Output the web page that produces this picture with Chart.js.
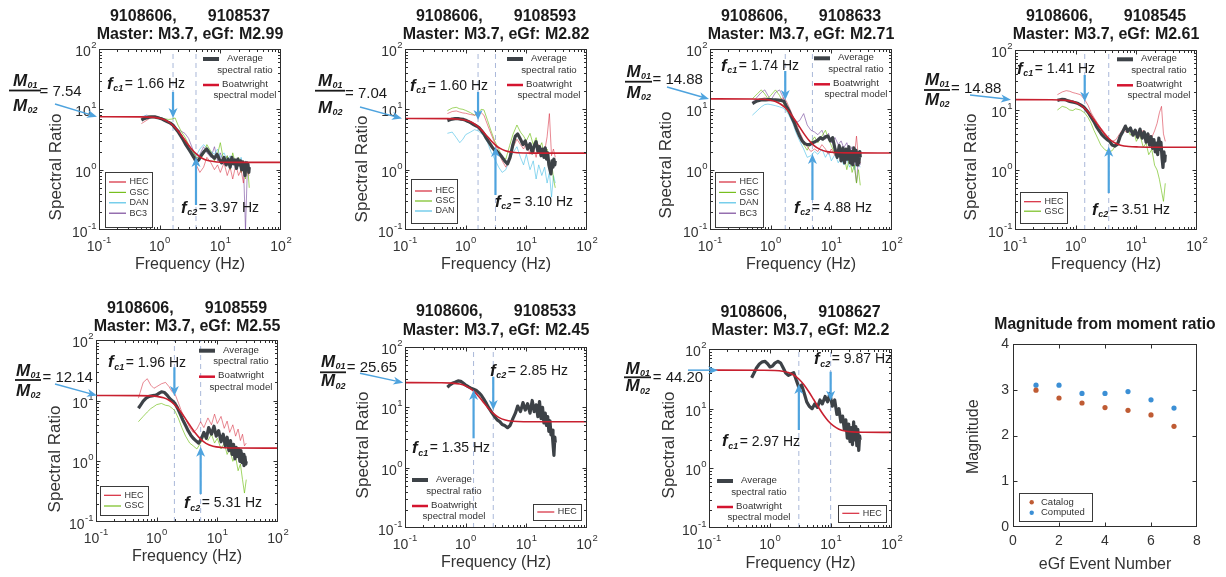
<!DOCTYPE html>
<html><head><meta charset="utf-8"><title>Spectral ratios and magnitudes</title>
<script src="https://cdn.jsdelivr.net/npm/chart.js@4.4.1/dist/chart.umd.min.js"></script>
<style>
html,body{margin:0;padding:0;background:#fff;}
#wrap{position:relative;width:1226px;height:577px;overflow:hidden;background:#fff;}
.pn{position:absolute;}
.pn canvas{display:block;}
</style></head><body><div id="wrap"></div>
<script>
// ---------------- DATA ----------------
const masterEvent = '9108606';
const masterMag = 'M3.7';
const egfEvents = ['9108537','9108593','9108633','9108545','9108559','9108533','9108627'];
const egfMags = ['M2.99','M2.82','M2.71','M2.61','M2.55','M2.45','M2.2'];
const momentRatios = [7.54, 7.04, 14.88, 14.88, 12.14, 25.65, 44.20];
const fc1Values = [1.66, 1.60, 1.74, 1.41, 1.96, 1.35, 2.97];
const fc2Values = [3.97, 3.10, 4.88, 3.51, 5.31, 2.85, 9.87];
const logTickExponents = [-1, 0, 1, 2];

const freqAvg = [0.5,0.55,0.6,0.67,0.75,0.83,0.92,1.0,1.1,1.2,1.35,1.5,1.65,1.8,2.0,2.2,2.45,2.7,3.0,3.3,3.65,4.0,4.4,4.9,5.4,6.0,6.6,7.2,8.0,8.8,9.6,10.5,11.5,12.5,13.5,14.5,15.5,16.5,17.5,18.5,19.5,20.5,21.5,22.5,23.5,24.5,25.5,26.5,27.5,28.5,29.5,30];
const freqSta = [0.5,0.6,0.7,0.8,0.9,1.0,1.2,1.4,1.6,1.8,2.0,2.3,2.6,3.0,3.5,4.0,4.6,5.3,6.0,7.0,8.0,9.0,10,11.5,13,14.5,16,18,20,22,24,26,28,30];

// average spectral ratios (on freqAvg)
const avg1 = [6.6,7.0,7.2,7.4,7.5,7.5,7.3,7.1,6.9,6.6,6.2,5.9,5.5,4.9,4.3,3.7,3.1,2.6,2.2,1.9,1.6,1.35,1.45,1.75,2.0,2.2,1.9,1.7,1.55,1.8,1.5,1.3,1.6,1.2,1.5,1.1,1.6,1.25,1.45,1.05,1.5,1.2,1.4,1.0,1.35,1.1,0.8,1.3,1.0,1.25,0.9,1.1];
const avg2 = [6.5,6.7,6.9,7.0,7.0,6.9,6.8,6.6,6.3,6.0,5.6,5.3,5.0,4.5,3.9,3.3,2.8,2.4,2.1,2.0,1.8,1.6,1.4,1.25,1.6,2.6,3.6,3.9,3.2,2.6,3.0,2.2,2.7,1.9,2.5,2.9,2.0,2.4,1.7,2.2,1.6,2.3,1.5,1.9,1.2,1.0,0.85,1.4,1.1,1.5,1.2,1.4];
const avg3 = [12.5,13.2,13.8,14.2,14.4,14.4,14.5,14.5,14.4,14.3,14.2,14.0,13.6,11.5,9.5,7.6,6.0,4.6,3.6,3.0,2.7,2.6,2.6,2.8,2.9,3.1,3.4,3.2,3.5,3.6,3.0,3.4,2.2,1.6,2.5,1.4,2.3,1.3,2.2,1.5,2.4,1.3,2.0,1.2,2.3,1.4,2.1,1.2,1.9,1.3,2.0,1.6];
const avg4 = [14.5,14.8,15.0,14.9,14.2,13.8,13.5,13.2,12.8,12.2,11.3,10.0,8.8,7.6,6.4,5.3,4.5,3.9,3.5,3.2,3.0,2.6,2.5,2.7,3.6,4.4,5.4,4.4,5.0,3.8,4.6,3.5,4.8,3.4,4.3,2.9,4.0,2.6,3.6,2.3,3.2,2.0,2.8,1.8,3.4,2.2,2.9,1.6,1.1,2.0,1.4,1.8];
const avg5 = [7.5,8.6,9.8,11.0,11.8,12.0,12.2,12.5,13.3,14.0,13.6,12.2,10.8,10.0,9.0,7.6,6.0,4.8,3.9,3.2,2.7,2.4,2.2,2.0,2.3,3.0,2.4,3.6,2.8,3.8,2.6,3.2,2.1,2.8,1.8,2.5,1.5,2.2,1.3,1.9,1.1,1.7,1.2,1.6,1.0,1.5,0.95,1.3,0.85,1.2,0.9,1.0];
const avg6 = [21.5,23.5,25.0,26.0,27.5,27.0,25.0,23.5,22.0,21.0,20.0,19.0,17.5,16.0,13.5,11.5,9.5,8.2,7.0,6.2,5.8,5.2,5.0,4.6,5.0,6.5,8.0,10.5,8.5,12.0,9.0,11.5,8.0,13.0,8.5,11.0,7.0,12.5,6.5,10.0,5.5,8.0,5.0,7.0,4.0,6.0,3.5,4.2,2.5,1.6,3.2,2.6];
const avg7 = [33,40,48,56,61,62,56,50,52,58,62,58,48,40,36,38,40,30,22,25,18,13,11,10,12,10.5,14,12,16,13,18,11,14,8,10,6,7.5,4.5,6.5,3.2,5.5,2.8,4.8,2.5,6.0,3.0,5.0,2.4,4.5,2.0,3.5,3.0];

// individual station ratios (on freqSta)
const hec1 = [5.8,6.5,7.2,7.6,7.3,7.0,6.4,6.0,5.6,5.0,4.5,3.6,2.8,2.2,1.7,1.2,0.9,1.1,1.6,1.3,1.0,1.2,0.9,1.3,0.8,1.1,0.7,1.2,0.8,1.0,0.6,1.1,0.9,0.8];
const gsc1 = [7.0,7.6,7.8,7.4,7.2,7.3,7.0,6.8,6.9,7.2,5.5,4.2,3.5,2.6,2.0,1.6,1.5,1.8,2.6,2.0,1.4,1.8,2.8,1.3,1.7,1.0,1.9,1.2,1.6,0.9,1.4,0.7,1.3,0.5];
const dan1 = [7.6,7.8,7.6,7.4,7.2,7.0,6.6,6.2,5.5,4.8,4.2,3.4,2.8,2.3,2.0,1.7,2.2,2.6,2.3,2.0,1.8,2.2,1.6,1.9,1.4,1.7,1.3,1.5,1.2,1.6,1.1,1.4,1.2,1.0];
const bc3_1 = [7.3,8.0,7.8,7.5,7.4,7.1,6.6,6.1,5.8,5.2,4.6,4.3,4.0,3.3,2.2,1.5,1.8,2.4,1.9,1.6,2.4,1.4,1.9,1.2,1.7,1.1,1.5,1.0,1.4,0.9,1.3,0.1,1.2,1.0];
const hec2 = [8.5,9.2,9.4,9.0,8.7,8.6,8.2,8.0,8.3,8.8,8.0,5.5,4.0,2.8,1.9,1.4,1.1,1.5,2.3,3.2,2.6,2.2,2.8,1.8,2.4,1.6,2.6,1.8,2.0,3.5,8.5,1.7,2.2,1.6];
const gsc2 = [9.5,10.5,10.8,10.2,10.0,9.6,8.8,8.0,8.6,10.0,9.8,6.5,4.5,3.0,2.2,1.6,1.5,2.5,3.8,5.5,4.2,3.6,3.0,4.0,2.6,3.4,2.2,2.8,1.6,2.2,1.0,1.4,0.7,0.5];
const dan2 = [4.0,4.2,3.4,2.8,3.2,3.8,4.2,4.6,4.4,4.0,3.6,2.8,2.0,1.5,1.1,0.9,1.0,1.5,1.9,2.4,1.6,1.2,1.8,1.0,1.4,0.7,1.2,0.8,1.1,0.6,0.9,0.35,0.8,0.6];
const hec3 = [13,14.5,15,15.5,15,14.2,13.8,14.5,15.5,14,11,8,6,4.2,3.0,2.4,2.0,2.2,2.0,2.6,2.2,1.8,2.2,1.7,2.0,1.6,1.9,1.5,1.8,1.4,1.7,3.6,1.5,1.3];
const gsc3 = [15,18,21,18,15,17,21,17,13,10,8.5,7,5,3.6,2.6,2.1,2.8,3.5,2.8,3.6,4.5,3.2,2.5,1.8,2.2,1.4,1.8,1.0,1.6,0.9,1.2,0.6,1.0,0.55];
const dan3 = [8,9.5,11,12,12.2,12,11.5,11,10.5,9.5,8,6,4.2,3.0,2.2,1.6,1.7,2.0,1.8,2.2,1.6,2.0,1.4,1.8,1.3,1.6,1.2,1.5,1.1,1.4,1.0,1.3,1.2,1.1];
const bc3_3 = [13,16,19,21,17,14,19,21,16,12,9,7.5,6,6.5,8.5,5.5,4.5,4.2,3.8,4.5,3.2,4.0,2.8,3.4,2.6,3.0,2.3,2.8,1.9,2.4,1.2,0.6,1.6,1.2];
const hec4 = [18,20,21,20.5,19.5,19,18,15,12,9,7.5,6,5,4.2,3.4,3.0,3.2,4.0,4.8,4.2,5.0,3.8,4.4,3.6,4.6,3.2,4.0,3.5,4.5,6.0,9.0,11.5,4.0,3.0];
const gsc4 = [10,11.5,11,10,9.8,10.5,10,9,7.5,6,4.6,3.4,2.6,2.2,2.0,2.1,2.6,3.5,4.4,5.2,3.8,4.6,3.0,3.8,2.4,2.8,1.8,2.2,1.2,1.0,0.7,0.45,0.3,0.6];
const hec5 = [11,20,23,18,16,17,19,20,17,14,13,9,6.5,5.0,3.6,3.0,3.4,4.5,3.6,5.2,4.0,6.0,4.2,5.5,3.5,4.6,3.0,4.0,2.6,3.4,2.2,2.8,1.8,2.0];
const gsc5 = [4.5,5.5,6.5,7.4,8.0,8.6,9.0,8.4,8.2,7.5,6.8,5.0,3.6,2.6,2.0,1.8,1.6,2.0,2.6,2.2,2.8,2.0,2.4,1.6,2.0,1.3,1.6,1.0,1.2,0.7,0.9,0.5,0.3,0.5];
const hec6 = avg6;   // single station: station ratio equals the average
const hec7 = avg7;

// Boatwright model curves
const modelF1 = [0.1,0.5,0.8,1.0,1.2,1.4,1.66,2.0,2.4,2.8,3.3,3.97,5,6.5,9,15,100];
const modelR1 = [7.54,7.51,7.35,7.10,6.71,6.19,5.41,4.41,3.46,2.79,2.25,1.84,1.55,1.40,1.34,1.32,1.32];
const modelF2 = [0.1,0.5,0.8,1.0,1.2,1.4,1.6,1.9,2.2,2.6,3.1,3.7,4.5,6,9,15,100];
const modelR2 = [7.04,7.01,6.84,6.59,6.20,5.71,5.15,4.35,3.69,3.05,2.56,2.25,2.06,1.94,1.89,1.88,1.88];
const modelF3 = [0.1,0.5,0.8,1.0,1.2,1.45,1.74,2.1,2.5,3.0,3.6,4.3,5.2,6.5,8.5,12,20,100];
const modelR3 = [14.88,14.83,14.56,14.14,13.46,12.27,10.61,8.56,6.71,5.07,3.85,3.04,2.51,2.17,1.99,1.92,1.90,1.89];
const modelF4 = [0.1,0.4,0.7,0.9,1.1,1.41,1.7,2.0,2.4,2.9,3.51,4.3,5.5,7.5,11,20,100];
const modelR4 = [14.88,14.83,14.46,13.81,12.77,10.66,8.66,6.96,5.36,4.15,3.35,2.87,2.59,2.46,2.42,2.40,2.40];
const modelF5 = [0.1,0.5,0.8,1.0,1.3,1.6,1.96,2.4,2.9,3.5,4.3,5.31,6.5,8.5,12,20,100];
const modelR5 = [12.14,12.11,11.98,11.76,11.13,10.14,8.66,6.87,5.26,3.96,2.95,2.32,1.98,1.77,1.69,1.66,1.65];
const modelF6 = [0.1,0.4,0.6,0.8,1.0,1.15,1.35,1.6,1.9,2.3,2.85,3.5,4.5,6,9,20,100];
const modelR6 = [25.65,25.55,25.19,24.28,22.66,21.03,18.59,15.60,12.65,9.97,7.94,6.83,6.17,5.89,5.78,5.76,5.76];
const modelF7 = [0.1,0.8,1.2,1.6,2.0,2.4,2.97,3.6,4.3,5.2,6.3,7.6,9.0,11,13.5,17,22,35,100];
const modelR7 = [44.2,44.08,43.63,42.46,40.29,37.07,31.38,25.09,19.37,14.23,10.35,7.76,6.22,5.13,4.53,4.22,4.08,4.02,4.00];

// magnitude panel
const eventNumbers = [1,2,3,4,5,6,7];
const catalogMag = [2.99,2.82,2.71,2.61,2.55,2.45,2.20];
const computedMag = [3.10,3.10,2.92,2.92,2.96,2.78,2.60];

const AVG = [avg1,avg2,avg3,avg4,avg5,avg6,avg7];
const MODEL_F = [modelF1,modelF2,modelF3,modelF4,modelF5,modelF6,modelF7];
const MODEL_R = [modelR1,modelR2,modelR3,modelR4,modelR5,modelR6,modelR7];
const STATIONS = [
  [['HEC',freqSta,hec1],['GSC',freqSta,gsc1],['DAN',freqSta,dan1],['BC3',freqSta,bc3_1]],
  [['HEC',freqSta,hec2],['GSC',freqSta,gsc2],['DAN',freqSta,dan2]],
  [['HEC',freqSta,hec3],['GSC',freqSta,gsc3],['DAN',freqSta,dan3],['BC3',freqSta,bc3_3]],
  [['HEC',freqSta,hec4],['GSC',freqSta,gsc4]],
  [['HEC',freqSta,hec5],['GSC',freqSta,gsc5]],
  [['HEC',freqAvg,hec6]],
  [['HEC',freqAvg,hec7]]
];

// ---------------- LAYOUT (page pixels) ----------------
const LAYOUT = [
 {box:[0,0,300,285], plot:[99,49,281,230], title:[190,17,35], ylab:[56,167], xlab:[190,265],
  fc1:[107,84,92,118], fc2:[181,208,205,157], frac:{x0:9,x1:41,num:81.5,bar:90.5,den:106.5,eqX:39.5,eqY:92},
  mArrow:[55,104,97], leg:[203,59], st:{x0:105,y0:172,x1:152,y1:227,r0:182,dr:10.4}},
 {box:[300,0,310,285], plot:[405,49,587,230], title:[496,17,35], ylab:[362,169], xlab:[496,265],
  fc1:[410,86,92,120], fc2:[495,202,195,147], frac:{x0:315,x1:345,num:81.5,bar:90.7,den:108,eqX:345,eqY:94},
  mArrow:[360,107,402], leg:[507,59], st:{x0:411,y0:179,x1:457,y1:223,r0:191,dr:10}},
 {box:[610,0,305,285], plot:[710,49,892,230], title:[801,16.5,34.5], ylab:[666,165], xlab:[801,265],
  fc1:[721,66,71,100], fc2:[794,208,200,154], frac:{x0:625,x1:652,num:72.2,bar:81.7,den:93.3,eqX:652.5,eqY:80},
  mArrow:[667,87,709], leg:[814,58.3], st:{x0:715,y0:172,x1:763,y1:227,r0:182,dr:10.4}},
 {box:[915,0,311,285], plot:[1015,50,1197,230], title:[1106,16.5,34.5], ylab:[971,167], xlab:[1106,265],
  fc1:[1017,69,75,101.7], fc2:[1092,210,193,146.7], frac:{x0:924,x1:950,num:80.5,bar:90,den:100,eqX:951,eqY:89.3},
  mArrow:[970,95,1011], leg:[1117,59.3], st:{x0:1020,y0:192.3,x1:1067,y1:223,r0:201.7,dr:9.5}},
 {box:[0,285,300,292], plot:[96,340,278,522], title:[187,308.3,326.5], ylab:[55,459], xlab:[187,557],
  fc1:[108,362.7,367.3,396], fc2:[184,503.3,494,446.7], frac:{x0:15,x1:41,num:371.2,bar:380,den:391,eqX:42.5,eqY:377.7},
  mArrow:[55,384,97], leg:[199,350.7], st:{x0:100,y0:485.7,x1:148,y1:514.3,r0:495.3,dr:10.7}},
 {box:[300,285,310,292], plot:[405,347,587,528], title:[496,311.7,330.7], ylab:[363,445], xlab:[496,563],
  fc1:[412,448.3,438.3,390], fc2:[490,371,376.7,410], frac:{x0:320,x1:346,num:362.2,bar:372.3,den:381.7,eqX:346.7,eqY:368.3},
  mArrow:[360,373.3,403.3], leg:[412,480], st:{x0:533.3,y0:504.3,x1:581.7,y1:520,r0:512,dr:10}},
 {box:[610,285,305,292], plot:[709,349,892,528], title:[800.5,312.7,331], ylab:[669,445], xlab:[800.5,564],
  fc1:[722,441.7,430,384], fc2:[814,359.3,371.7,400.7], frac:{x0:624,x1:651,num:369.5,bar:377.3,den:386.7,eqX:652.7,eqY:377.7},
  mArrow:[688,null,718], leg:[717,481], st:{x0:838.3,y0:505,x1:886.7,y1:521.7,r0:513.3,dr:10}}
];
const MAG_LAYOUT = {box:[915,285,311,292], plot:[1013,344,1197,527], title:[1105,325], ylab:[974,436.7], xlab:[1105,565],
  leg:{x0:1019.3,y0:493.3,x1:1092.7,y1:521.7,r0:502.3,dr:10.4}};

// ---------------- STYLE ----------------
const FF = "'Liberation Sans', Arial, Helvetica, sans-serif";
const TXT = '#333333';
const DARK = '#1a1a1a';
const RED = '#c8202f';
const AVGC = '#3d4247';
const BLUE = '#4ea3de';
const DASH = '#a9b8d9';
const STA_COLORS = {HEC:'rgba(214,40,58,0.55)', GSC:'rgba(110,190,20,0.65)', DAN:'rgba(70,190,230,0.6)', BC3:'rgba(115,70,155,0.6)'};
const STA_LEG = {HEC:'#d6283a', GSC:'#77bf1f', DAN:'#56c2e6', BC3:'#7b4b9c'};
const YW = 40, XH = 30;

// ---------------- HELPERS ----------------
function isPow10(v){ const e = Math.log10(v); return Math.abs(e - Math.round(e)) < 1e-6; }
const LOG_TICKS = [];
for (let d = -1; d <= 1; d++) for (let m = 1; m <= 9; m++) LOG_TICKS.push(m * Math.pow(10, d));
LOG_TICKS.push(100);
function pts(xs, ys){ return xs.map((x, k) => ({x: x, y: ys[k]})); }
function txt(ctx, s, x, y, font, color, align, base){ ctx.font = font; ctx.fillStyle = color; ctx.textAlign = align || 'left'; ctx.textBaseline = base || 'middle'; ctx.fillText(s, x, y); }
function line(ctx, x0, y0, x1, y1){ ctx.beginPath(); ctx.moveTo(x0, y0); ctx.lineTo(x1, y1); ctx.stroke(); }

function frame(ctx, chart, ox, oy, xTicks, yTicks, majorTest){
  const a = chart.chartArea, xs = chart.scales.x, ys = chart.scales.y;
  const L = Math.round(a.left + ox) + 0.5, R = Math.round(a.right + ox) - 0.5, T = Math.round(a.top + oy) + 0.5, B = Math.round(a.bottom + oy) - 0.5;
  ctx.strokeStyle = '#2e2e2e'; ctx.lineWidth = 1;
  ctx.beginPath();
  xTicks.forEach(v => {
    const p = Math.round(xs.getPixelForValue(v) + ox) + 0.5;
    if (p <= L + 1 || p >= R - 1) return;
    const len = majorTest(v) ? 4 : 2.5;
    ctx.moveTo(p, B); ctx.lineTo(p, B - len); ctx.moveTo(p, T); ctx.lineTo(p, T + len);
  });
  yTicks.forEach(v => {
    const p = Math.round(ys.getPixelForValue(v) + oy) + 0.5;
    if (p <= T + 1 || p >= B - 1) return;
    const len = majorTest(v) ? 4 : 2.5;
    ctx.moveTo(L, p); ctx.lineTo(L + len, p); ctx.moveTo(R, p); ctx.lineTo(R - len, p);
  });
  ctx.stroke();
  ctx.strokeRect(L, T, R - L, B - T);
}

// MATLAB-style "10^n" tick labels, placed with the chart's own scales
function powLabel(ctx, exp, x, yc, align){
  const base = '10', sup = String(exp);
  ctx.font = `14px ${FF}`; const wb = ctx.measureText(base).width;
  ctx.font = `9.5px ${FF}`; const ws = ctx.measureText(sup).width;
  const x0 = align === 'center' ? x - (wb + ws + 0.5) / 2 : x - (wb + ws + 0.5);
  txt(ctx, base, x0, yc, `14px ${FF}`, TXT, 'left');
  txt(ctx, sup, x0 + wb + 0.5, yc - 6.5, `9.5px ${FF}`, TXT, 'left');
}
function logTickLabels(ctx, chart, ox, oy){
  const a = chart.chartArea, xs = chart.scales.x, ys = chart.scales.y;
  logTickExponents.forEach(e => {
    const v = Math.pow(10, e);
    powLabel(ctx, e, xs.getPixelForValue(v) + ox, a.bottom + oy + 17, 'center');
    powLabel(ctx, e, a.left + ox - 2.5, ys.getPixelForValue(v) + oy + 3, 'right');
  });
}

function arrow(ctx, x0, y0, x1, y1, lw, hl, hw){
  const ang = Math.atan2(y1 - y0, x1 - x0), c = Math.cos(ang), s = Math.sin(ang);
  const nx = x1 - hl * 0.72 * c, ny = y1 - hl * 0.72 * s;
  const bx = x1 - hl * c, by = y1 - hl * s;
  ctx.strokeStyle = BLUE; ctx.lineWidth = lw; ctx.lineCap = 'butt';
  line(ctx, x0, y0, nx, ny);
  ctx.fillStyle = BLUE; ctx.beginPath(); ctx.moveTo(x1, y1);
  ctx.lineTo(bx - hw / 2 * s, by + hw / 2 * c); ctx.lineTo(nx, ny); ctx.lineTo(bx + hw / 2 * s, by - hw / 2 * c);
  ctx.closePath(); ctx.fill();
}

function fcLabel(ctx, x, y, sub, val){
  ctx.textAlign = 'left'; ctx.textBaseline = 'middle'; ctx.fillStyle = DARK;
  ctx.font = `italic bold 17px ${FF}`; ctx.fillText('f', x, y); let w = ctx.measureText('f').width + 0.5;
  ctx.font = `italic bold 9px ${FF}`; ctx.fillText(sub, x + w, y + 5); w += ctx.measureText(sub).width + 1.5;
  ctx.font = `14px ${FF}`; ctx.fillText('= ' + val + ' Hz', x + w, y);
}

function mSub(ctx, cx, cy, sub){
  ctx.font = `italic bold 17px ${FF}`; const wM = ctx.measureText('M').width;
  ctx.font = `italic bold 9px ${FF}`; const wS = ctx.measureText(sub).width;
  const x = cx - (wM + wS) / 2;
  ctx.textAlign = 'left'; ctx.textBaseline = 'middle'; ctx.fillStyle = DARK;
  ctx.font = `italic bold 17px ${FF}`; ctx.fillText('M', x, cy);
  ctx.font = `italic bold 9px ${FF}`; ctx.fillText(sub, x + wM + 0.5, cy + 4.5);
}

function fracLabel(ctx, f, val){
  const cx = (f.x0 + f.x1) / 2;
  mSub(ctx, cx, f.num, '01');
  mSub(ctx, cx, f.den, '02');
  ctx.fillStyle = DARK; ctx.fillRect(f.x0, f.bar - 0.9, f.x1 - f.x0, 1.8);
  txt(ctx, '= ' + val, f.eqX, f.eqY, `15px ${FF}`, DARK, 'left');
}

function mainLegend(ctx, x, y){
  ctx.lineCap = 'butt';
  ctx.strokeStyle = AVGC; ctx.lineWidth = 4; line(ctx, x, y, x + 16, y);
  ctx.strokeStyle = '#d4142f'; ctx.lineWidth = 2.5; line(ctx, x, y + 26, x + 16, y + 26);
  const f = `9.7px ${FF}`;
  txt(ctx, 'Average', x + 42, y - 0.5, f, TXT, 'center');
  txt(ctx, 'spectral ratio', x + 42, y + 11, f, TXT, 'center');
  txt(ctx, 'Boatwright', x + 42, y + 25, f, TXT, 'center');
  txt(ctx, 'spectral model', x + 42, y + 36.5, f, TXT, 'center');
}

function staLegend(ctx, B, names){
  ctx.fillStyle = '#ffffff'; ctx.fillRect(B.x0, B.y0, B.x1 - B.x0, B.y1 - B.y0);
  ctx.strokeStyle = '#3a3a3a'; ctx.lineWidth = 1;
  ctx.strokeRect(Math.round(B.x0) + 0.5, Math.round(B.y0) + 0.5, Math.round(B.x1 - B.x0), Math.round(B.y1 - B.y0));
  names.forEach((n, k) => {
    const yy = B.r0 + k * B.dr;
    ctx.strokeStyle = STA_LEG[n]; ctx.lineWidth = 1.2; line(ctx, B.x0 + 4, yy, B.x0 + 21, yy);
    txt(ctx, n, B.x0 + 24.5, yy, `9px ${FF}`, TXT, 'left');
  });
}

function fixedAxis(axis, extra){
  return Object.assign({
    position: axis === 'x' ? 'bottom' : 'left',
    grid: {display: false, drawTicks: false}, border: {display: false},
    afterFit: s => {
      if (axis === 'x') { s.height = XH; s.paddingLeft = 0; s.paddingRight = 0; }
      else { s.width = YW; s.paddingTop = 0; s.paddingBottom = 0; }
    }
  }, extra);
}

function makeCanvas(box){
  const div = document.createElement('div'); div.className = 'pn';
  div.style.left = box[0] + 'px'; div.style.top = box[1] + 'px'; div.style.width = box[2] + 'px'; div.style.height = box[3] + 'px';
  const cv = document.createElement('canvas'); div.appendChild(cv);
  document.getElementById('wrap').appendChild(div);
  return cv;
}

function padFor(lay){
  const [bx, by, bw, bh] = lay.box, [pl, pt, pr, pb] = lay.plot;
  return {left: pl - bx - YW, top: pt - by, right: bx + bw - pr, bottom: by + bh - pb - XH};
}

// ---------------- SPECTRAL PANELS ----------------
function buildSpectral(i){
  const lay = LAYOUT[i];
  const bx = lay.box[0], by = lay.box[1];
  const cv = makeCanvas(lay.box);
  const ds = [];
  ds.push({label: 'Boatwright spectral model', data: pts(MODEL_F[i], MODEL_R[i]), borderColor: RED, borderWidth: 1.6, pointRadius: 0, cubicInterpolationMode: 'monotone', fill: false});
  ds.push({label: 'Average spectral ratio', data: pts(freqAvg, AVG[i]), borderColor: AVGC, borderWidth: 3.2, pointRadius: 0, tension: 0, borderJoinStyle: 'round', fill: false});
  STATIONS[i].forEach(s => ds.push({label: s[0], data: pts(s[1], s[2]), borderColor: STA_COLORS[s[0]], borderWidth: 1, pointRadius: 0, tension: 0, fill: false}));
  [fc1Values[i], fc2Values[i]].forEach((fc, k) => ds.push({label: 'fc' + (k + 1), data: [{x: fc, y: 0.1}, {x: fc, y: 100}], borderColor: DASH, borderWidth: 1, borderDash: [5, 4], pointRadius: 0, fill: false}));

  const deco = {
    id: 'deco' + i,
    afterDraw(chart){
      const ctx = chart.ctx, xs = chart.scales.x, ys = chart.scales.y;
      const X = v => xs.getPixelForValue(v) + bx, Y = v => ys.getPixelForValue(v) + by;
      ctx.save(); ctx.translate(-bx, -by);
      frame(ctx, chart, bx, by, LOG_TICKS, LOG_TICKS, isPow10);
      logTickLabels(ctx, chart, bx, by);
      const tf = `bold 16px ${FF}`;
      txt(ctx, masterEvent + ',       ' + egfEvents[i], lay.title[0], lay.title[1], tf, DARK, 'center');
      txt(ctx, 'Master: ' + masterMag + ', eGf: ' + egfMags[i], lay.title[0], lay.title[2], tf, DARK, 'center');
      txt(ctx, 'Frequency (Hz)', lay.xlab[0], lay.xlab[1], `16px ${FF}`, TXT, 'center');
      ctx.save(); ctx.translate(lay.ylab[0], lay.ylab[1]); ctx.rotate(-Math.PI / 2);
      txt(ctx, 'Spectral Ratio', 0, 0, `17px ${FF}`, TXT, 'center'); ctx.restore();
      mainLegend(ctx, lay.leg[0], lay.leg[1]);
      staLegend(ctx, lay.st, STATIONS[i].map(s => s[0]));
      fcLabel(ctx, lay.fc1[0], lay.fc1[1], 'c1', fc1Values[i].toFixed(2));
      arrow(ctx, X(fc1Values[i]), lay.fc1[2], X(fc1Values[i]), lay.fc1[3], 2.2, 10, 9);
      fcLabel(ctx, lay.fc2[0], lay.fc2[1], 'c2', fc2Values[i].toFixed(2));
      arrow(ctx, X(fc2Values[i]), lay.fc2[2], X(fc2Values[i]), lay.fc2[3], 2.2, 10, 9);
      fracLabel(ctx, lay.frac, momentRatios[i].toFixed(2));
      const m = lay.mArrow, ty = Y(momentRatios[i]);
      arrow(ctx, m[0], m[1] === null ? ty : m[1], m[2], ty, 1.5, 10, 8);
      ctx.restore();
    }
  };

  new Chart(cv, {
    type: 'line',
    data: {datasets: ds},
    options: {
      responsive: true, maintainAspectRatio: false, animation: false, devicePixelRatio: 1, events: [],
      layout: {padding: padFor(lay)},
      plugins: {legend: {display: false}, title: {display: false}, tooltip: {enabled: false}},
      scales: {
        x: fixedAxis('x', {type: 'logarithmic', min: 0.1, max: 100, ticks: {display: false}}),
        y: fixedAxis('y', {type: 'logarithmic', min: 0.1, max: 100, ticks: {display: false}})
      }
    },
    plugins: [deco]
  });
}

// ---------------- MAGNITUDE PANEL ----------------
function buildMagnitude(){
  const lay = MAG_LAYOUT;
  const bx = lay.box[0], by = lay.box[1];
  const cv = makeCanvas(lay.box);
  const CAT = '#bf5b33', COMP = '#3b8fd5';
  const tickFont = {family: FF, size: 14};
  const deco = {
    id: 'decoMag',
    afterDraw(chart){
      const ctx = chart.ctx;
      ctx.save(); ctx.translate(-bx, -by);
      frame(ctx, chart, bx, by, [0,2,4,6,8], [0,1,2,3,4], () => true);
      txt(ctx, 'Magnitude from moment ratio', lay.title[0], lay.title[1], `bold 15.7px ${FF}`, DARK, 'center');
      txt(ctx, 'eGf Event Number', lay.xlab[0], lay.xlab[1], `16px ${FF}`, TXT, 'center');
      ctx.save(); ctx.translate(lay.ylab[0], lay.ylab[1]); ctx.rotate(-Math.PI / 2);
      txt(ctx, 'Magnitude', 0, 0, `16px ${FF}`, TXT, 'center'); ctx.restore();
      const B = lay.leg;
      ctx.fillStyle = '#fff'; ctx.fillRect(B.x0, B.y0, B.x1 - B.x0, B.y1 - B.y0);
      ctx.strokeStyle = '#3a3a3a'; ctx.lineWidth = 1;
      ctx.strokeRect(Math.round(B.x0) + 0.5, Math.round(B.y0) + 0.5, Math.round(B.x1 - B.x0), Math.round(B.y1 - B.y0));
      [['Catalog', CAT], ['Computed', COMP]].forEach((e, k) => {
        const yy = B.r0 + k * B.dr;
        ctx.fillStyle = e[1]; ctx.beginPath(); ctx.arc(B.x0 + 12.4, yy, 2.2, 0, Math.PI * 2); ctx.fill();
        txt(ctx, e[0], B.x0 + 21.7, yy, `9.5px ${FF}`, TXT, 'left');
      });
      ctx.restore();
    }
  };
  new Chart(cv, {
    type: 'scatter',
    data: {datasets: [
      {label: 'Catalog', data: pts(eventNumbers, catalogMag), backgroundColor: CAT, borderColor: CAT, borderWidth: 0, pointRadius: 2.6},
      {label: 'Computed', data: pts(eventNumbers, computedMag), backgroundColor: COMP, borderColor: COMP, borderWidth: 0, pointRadius: 2.6}
    ]},
    options: {
      responsive: true, maintainAspectRatio: false, animation: false, devicePixelRatio: 1, events: [],
      layout: {padding: padFor(lay)},
      plugins: {legend: {display: false}, title: {display: false}, tooltip: {enabled: false}},
      scales: {
        x: fixedAxis('x', {type: 'linear', min: 0, max: 8, ticks: {stepSize: 2, padding: 6, color: TXT, font: tickFont, maxRotation: 0}}),
        y: fixedAxis('y', {type: 'linear', min: 0, max: 4, ticks: {stepSize: 1, padding: 4, color: TXT, font: tickFont}})
      }
    },
    plugins: [deco]
  });
}

for (let i = 0; i < 7; i++) buildSpectral(i);
buildMagnitude();
</script></body></html>
